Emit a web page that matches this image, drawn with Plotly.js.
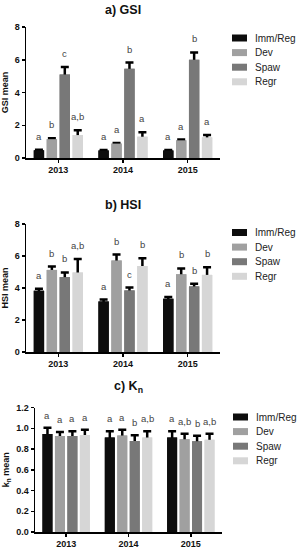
<!DOCTYPE html>
<html>
<head>
<meta charset="utf-8">
<script src="https://cdn.plot.ly/plotly-3.0.1.min.js"></script>
<style>html,body{margin:0;padding:0;background:#fff;}#chart{width:298px;height:550px;}</style>
</head>
<body>
<div id="chart"></div>
<script>
// ---- data ----
const years = ['2013', '2014', '2015'];
const seriesNames = ['Imm/Reg', 'Dev', 'Spaw', 'Regr'];
const seriesColors = ['#0d0d0d', '#a0a0a0', '#787878', '#d6d6d6'];

// a) GSI
const gsiImm = [0.47, 0.46, 0.46];
const gsiDev = [1.15, 0.88, 1.08];
const gsiSpaw = [5.1, 5.45, 6.0];
const gsiRegr = [1.4, 1.3, 1.26];
const gsiImmErr = [0.03, 0.03, 0.03];
const gsiDevErr = [0.06, 0.04, 0.05];
const gsiSpawErr = [0.45, 0.38, 0.45];
const gsiRegrErr = [0.3, 0.27, 0.14];
const gsiLetters = [['a','a','a'], ['b','a','a'], ['c','b','b'], ['a,b','a','a']];

// b) HSI
const hsiImm = [3.83, 3.16, 3.33];
const hsiDev = [5.13, 5.72, 4.86];
const hsiSpaw = [4.68, 3.85, 4.10];
const hsiRegr = [4.97, 5.38, 4.82];
const hsiImmErr = [0.12, 0.12, 0.1];
const hsiDevErr = [0.21, 0.37, 0.36];
const hsiSpawErr = [0.29, 0.18, 0.16];
const hsiRegrErr = [0.85, 0.48, 0.48];
const hsiLetters = [['a','a','a'], ['b','b','b'], ['b','c','b'], ['a,b','b','b']];

// c) Kn
const knImm = [0.945, 0.91, 0.91];
const knDev = [0.925, 0.93, 0.895];
const knSpaw = [0.925, 0.878, 0.875];
const knRegr = [0.935, 0.91, 0.89];
const knImmErr = [0.06, 0.06, 0.06];
const knDevErr = [0.04, 0.055, 0.053];
const knSpawErr = [0.045, 0.055, 0.053];
const knRegrErr = [0.05, 0.06, 0.057];
const knLetters = [['a','a','a'], ['a','a','a,b'], ['a','b','b'], ['a','a,b','a,b']];

// ---- layout helpers ----
const W = 298, H = 550;
const px = v => v / W;
const py = v => 1 - v / H;
const FONT = 'Liberation Sans, Arial, sans-serif';

const panels = [
  {vals: [gsiImm, gsiDev, gsiSpaw, gsiRegr], errs: [gsiImmErr, gsiDevErr, gsiSpawErr, gsiRegrErr], letters: gsiLetters,
   xa: 'x', ya: 'y', title: 'a) GSI', titleX: 123, titleY: 10, legX: 232, legY: 38, letterShift: 6},
  {vals: [hsiImm, hsiDev, hsiSpaw, hsiRegr], errs: [hsiImmErr, hsiDevErr, hsiSpawErr, hsiRegrErr], letters: hsiLetters,
   xa: 'x2', ya: 'y2', title: 'b) HSI', titleX: 123, titleY: 205, legX: 232, legY: 232.5, letterShift: 6},
  {vals: [knImm, knDev, knSpaw, knRegr], errs: [knImmErr, knDevErr, knSpawErr, knRegrErr], letters: knLetters,
   xa: 'x3', ya: 'y3', title: 'c) K<sub>n</sub>', titleX: 128, titleY: 387, legX: 233, legY: 417, letterShift: 5}
];

const errTraces = [];
const barTraces = [];
const annotations = [];
const shapes = [];

panels.forEach(p => {
  p.vals.forEach((v, j) => {
    // error bar carrier (lower half hidden by the bar drawn over it)
    errTraces.push({
      type: 'bar', x: years, y: v, name: seriesNames[j], offsetgroup: String(j),
      xaxis: p.xa, yaxis: p.ya, showlegend: false,
      marker: {color: seriesColors[j], line: {width: 0}},
      error_y: {type: 'data', array: p.errs[j], color: '#000', thickness: 2.5, width: 4},
      hoverinfo: 'skip'
    });
    barTraces.push({
      type: 'bar', x: years, y: v, name: seriesNames[j], offsetgroup: String(j),
      xaxis: p.xa, yaxis: p.ya, showlegend: false,
      marker: {color: seriesColors[j], line: {width: 0}},
      hoverinfo: 'skip'
    });
    // significance letters
    v.forEach((val, i) => {
      annotations.push({
        xref: p.xa, yref: p.ya, x: i + (j - 1.5) * 0.2, y: val + p.errs[j][i],
        text: p.letters[j][i], showarrow: false, yanchor: 'bottom', xanchor: 'center',
        yshift: p.letterShift, font: {family: FONT, size: 9.5, color: '#444444'}
      });
    });
    // legend entry
    const cy = p.legY + j * 14.6;
    shapes.push({type: 'rect', xref: 'paper', yref: 'paper',
      x0: px(p.legX), x1: px(p.legX + 15), y0: py(cy + 3.5), y1: py(cy - 3.5),
      fillcolor: seriesColors[j], line: {width: 0}});
    annotations.push({xref: 'paper', yref: 'paper', x: px(p.legX + 21), y: py(cy),
      xanchor: 'left', yanchor: 'middle', showarrow: false, text: seriesNames[j],
      font: {family: FONT, size: 10, color: '#222'}});
  });
  annotations.push({xref: 'paper', yref: 'paper', x: px(p.titleX), y: py(p.titleY),
    xanchor: 'center', yanchor: 'middle', showarrow: false, text: '<b>' + p.title + '</b>',
    font: {family: FONT, size: 12.5, color: '#111'}});
});

function xax(domain, anchor) {
  return {domain: domain, anchor: anchor, range: [-0.5, 2.5], type: 'category', showgrid: false, zeroline: false,
    showline: true, linecolor: '#000', linewidth: 1.5, ticks: 'outside', ticklen: 3, tickwidth: 1.5,
    tickcolor: '#000', tickfont: {family: FONT, size: 9, color: '#111', weight: 'bold'}, fixedrange: true};
}
function yax(domain, range, dtick, fmt, anchor, title, standoff) {
  return {domain: domain, range: range, dtick: dtick, tick0: 0, tickformat: fmt, anchor: anchor,
    showgrid: false, zeroline: false, showline: true, linecolor: '#000', linewidth: 1.5,
    ticks: 'outside', ticklen: 3, tickwidth: 1.5, tickcolor: '#000',
    tickfont: {family: FONT, size: 9, color: '#111', weight: 'bold'},
    title: {text: '<b>' + title + '</b>', font: {family: FONT, size: 9, color: '#111'}, standoff: standoff},
    fixedrange: true};
}

const layout = {
  width: W, height: H, margin: {l: 0, r: 0, t: 0, b: 0},
  paper_bgcolor: '#fff', plot_bgcolor: '#fff',
  barmode: 'group', bargap: 0.2, bargroupgap: 0.2,
  showlegend: false,
  xaxis: xax([px(26), px(220)], 'y'),
  xaxis2: xax([px(26), px(220)], 'y2'),
  xaxis3: xax([px(35), px(222)], 'y3'),
  yaxis: yax([py(158), py(27)], [0, 8], 2, '', 'x', 'GSI mean', 6),
  yaxis2: yax([py(352), py(224)], [0, 8], 2, '', 'x2', 'HSI mean', 6),
  yaxis3: yax([py(532), py(407.5)], [0, 1.2], 0.2, '.1f', 'x3', 'k<sub>n</sub> mean', 5),
  annotations: annotations,
  shapes: shapes
};

Plotly.newPlot('chart', errTraces.concat(barTraces), layout, {displayModeBar: false, staticPlot: true});
</script>
</body>
</html>
